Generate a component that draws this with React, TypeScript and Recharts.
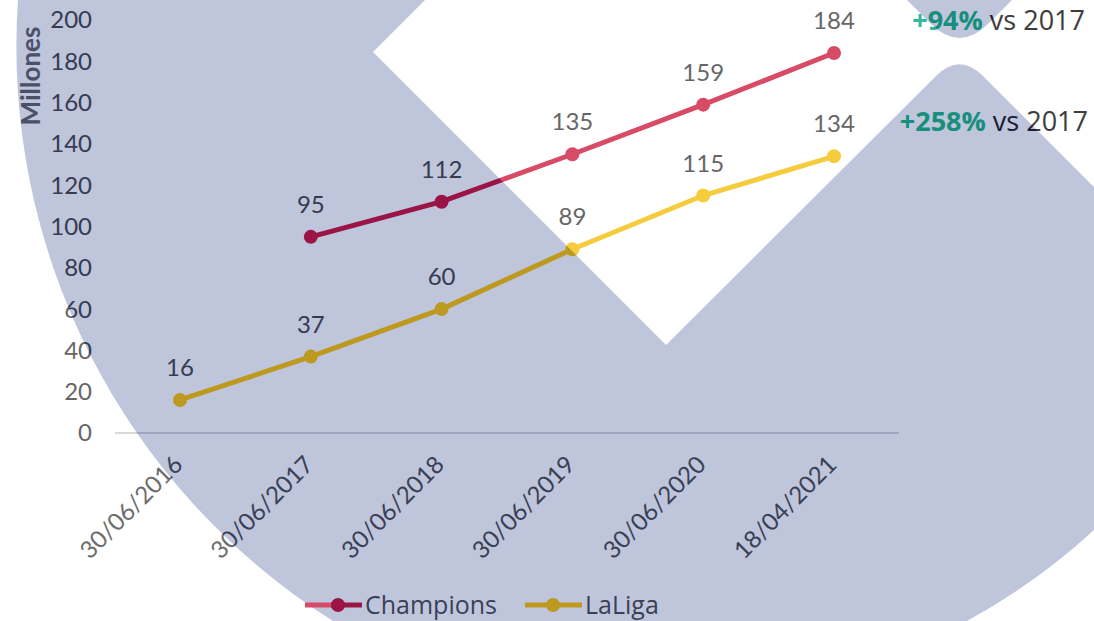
import { Label, LabelList, Legend, Line, LineChart, XAxis, YAxis } from 'recharts'

const W = 1094
const H = 621

const dates = ['30/06/2016', '30/06/2017', '30/06/2018', '30/06/2019', '30/06/2020', '18/04/2021']
const champions = [null, 95, 112, 135, 159, 184]
const laliga = [16, 37, 60, 89, 115, 134]
const yTicks = [0, 20, 40, 60, 80, 100, 120, 140, 160, 180, 200]
const growthPct = ['+94%', '+258%']
const growthRest = [' vs 2017', ' vs 2017']

const rows = dates.map((date, i) => ({ date, Champions: champions[i], LaLiga: laliga[i] }))

// big backdrop shape and the white "X" cut through it (page coordinates)
const BLUE = 'M 18 0 A 679 679 0 0 0 333 621 L 967 621 A 640 640 0 0 0 1094 530 L 1094 0 Z'
const CUT =
  'M 425 0 L 373 52 L 666 345 L 936 76 Q 959.5 52.5 983 76 L 1094 187 L 1094 0 L 1012 0 ' +
  'L 988.5 23.5 Q 959.5 52.5 930.5 23.5 L 907 0 Z'

// paint that takes one colour on white and a darker one over the backdrop
const tint = (id: string, light: string, dark: string, transform?: string) => (
  <pattern id={id} patternUnits="userSpaceOnUse" x={0} y={0} width={W} height={H} patternTransform={transform}>
    <rect width={W} height={H} fill={light} />
    <path d={BLUE} fill={dark} />
    <path d={CUT} fill={light} />
  </pattern>
)

const NUM_FONT = 'Lato, "Noto Sans", sans-serif'
const TXT_FONT = '"Open Sans", "Noto Sans", sans-serif'

// recharts' <Text> swaps url() fills for grey, so the tinted texts are plain <text>
const XTick = (props: any) => {
  const { x, y, payload, index } = props
  const tx = x - 8
  const ty = y + 2
  const id = `xt-${index}`
  return (
    <g>
      <defs>{tint(id, '#6b6b6b', '#3a3f55', `rotate(45 ${tx} ${ty})`)}</defs>
      <text
        x={tx}
        y={ty}
        dy="0.71em"
        textAnchor="end"
        transform={`rotate(-45 ${tx} ${ty})`}
        fill={`url(#${id})`}
        fontSize={24}
        fontFamily={NUM_FONT}
      >
        {payload.value}
      </text>
    </g>
  )
}

const YTick = (props: any) => {
  const { x, y, payload } = props
  return (
    <text x={x} y={y} dy="0.35em" textAnchor="end" fill="url(#pText)" fontSize={24} fontFamily={NUM_FONT}>
      {payload.value}
    </text>
  )
}

const PointLabel = (props: any) => {
  const { value } = props
  if (value === null || value === undefined) return null
  const vb = props.viewBox ?? props
  const cx = vb.x + (vb.width ?? 0) / 2
  return (
    <text x={cx} y={vb.y - 24} textAnchor="middle" fill="url(#pText)" fontSize={24} fontFamily={NUM_FONT}>
      {value}
    </text>
  )
}

const AxisTitle = () => (
  <g>
    <defs>{tint('ytitle', '#8a8a8a', '#4b5068', 'rotate(90 31 76)')}</defs>
    <text
      x={31}
      y={76}
      dy="0.35em"
      textAnchor="middle"
      transform="rotate(-90 31 76)"
      fill="url(#ytitle)"
      fontSize={26}
      fontWeight={700}
      fontFamily={NUM_FONT}
    >
      Millones
    </text>
  </g>
)

const LegendBox = () => (
  <div
    style={{
      display: 'flex',
      alignItems: 'center',
      height: 25,
      lineHeight: '25px',
      fontFamily: TXT_FONT,
      fontSize: 25,
      color: '#3b4058',
    }}
  >
    <svg width={57} height={16}>
      <line x1={0} y1={8} x2={26} y2={8} stroke="#d84b66" strokeWidth={5} />
      <line x1={26} y1={8} x2={57} y2={8} stroke="#9a1545" strokeWidth={5} />
      <circle cx={33} cy={8} r={7} fill="#9a1545" />
    </svg>
    <span style={{ marginLeft: 3, marginRight: 28 }}>Champions</span>
    <svg width={57} height={16}>
      <line x1={0} y1={8} x2={57} y2={8} stroke="#bd991f" strokeWidth={5} />
      <circle cx={28} cy={8} r={7} fill="#bd991f" />
    </svg>
    <span style={{ marginLeft: 3 }}>LaLiga</span>
  </div>
)

export default function App() {
  return (
    <div style={{ position: 'relative', width: W, height: H, fontFamily: NUM_FONT }}>
      <style>{'body{margin:0}'}</style>
      <svg width={W} height={H} style={{ position: 'absolute', left: 0, top: 0 }}>
        <defs>
          {tint('pRed', '#d84b66', '#9a1545')}
          {tint('pGold', '#f6cc3f', '#bd991f')}
          {tint('pText', '#666666', '#363b50')}
          {tint('pAxis', '#d9d9d9', '#9fa5be')}
          {tint('pTeal', '#35b59b', '#1a8e7c')}
          {tint('pInk', '#3d3d3d', '#1a1f33')}
        </defs>
        <path d={BLUE} fill="#bfc6dc" />
        <path d={CUT} fill="#ffffff" />
      </svg>

      <div style={{ position: 'absolute', left: 0, top: 0 }}>
        <LineChart width={W} height={H} data={rows} margin={{ top: 20, right: 195, bottom: 0, left: 0 }}>
          <XAxis
            dataKey="date"
            height={188}
            padding={{ left: 65, right: 65 }}
            axisLine={{ stroke: 'url(#pAxis)', strokeWidth: 2 }}
            tickLine={false}
            tickSize={0}
            tickMargin={19}
            interval={0}
            tick={<XTick />}
          />
          <YAxis
            width={115}
            domain={[0, 200]}
            ticks={yTicks}
            axisLine={false}
            tickLine={false}
            tickSize={0}
            tickMargin={23}
            tick={<YTick />}
          >
            <Label content={<AxisTitle />} />
          </YAxis>
          <Legend
            verticalAlign="middle"
            align="center"
            wrapperStyle={{ left: 305, top: 592, width: 420, height: 25 }}
            content={<LegendBox />}
          />
          <Line
            dataKey="Champions"
            stroke="url(#pRed)"
            strokeWidth={5}
            dot={{ r: 6, fill: 'url(#pRed)', stroke: 'url(#pRed)', strokeWidth: 2 }}
            activeDot={false}
            isAnimationActive={false}
          >
            <LabelList dataKey="Champions" content={<PointLabel />} />
          </Line>
          <Line
            dataKey="LaLiga"
            stroke="url(#pGold)"
            strokeWidth={5}
            dot={{ r: 6, fill: 'url(#pGold)', stroke: 'url(#pGold)', strokeWidth: 2 }}
            activeDot={false}
            isAnimationActive={false}
          >
            <LabelList dataKey="LaLiga" content={<PointLabel />} />
          </Line>
        </LineChart>
      </div>

      <svg width={W} height={H} style={{ position: 'absolute', left: 0, top: 0, pointerEvents: 'none' }}>
        <text x={1085} y={30} textAnchor="end" fontSize={27} fontFamily={TXT_FONT}>
          <tspan fill="url(#pTeal)" fontWeight={700}>{growthPct[0]}</tspan>
          <tspan fill="url(#pInk)">{growthRest[0]}</tspan>
        </text>
        <text x={1088} y={131} textAnchor="end" fontSize={27} fontFamily={TXT_FONT}>
          <tspan fill="url(#pTeal)" fontWeight={700}>{growthPct[1]}</tspan>
          <tspan fill="url(#pInk)">{growthRest[1]}</tspan>
        </text>
      </svg>
    </div>
  )
}
